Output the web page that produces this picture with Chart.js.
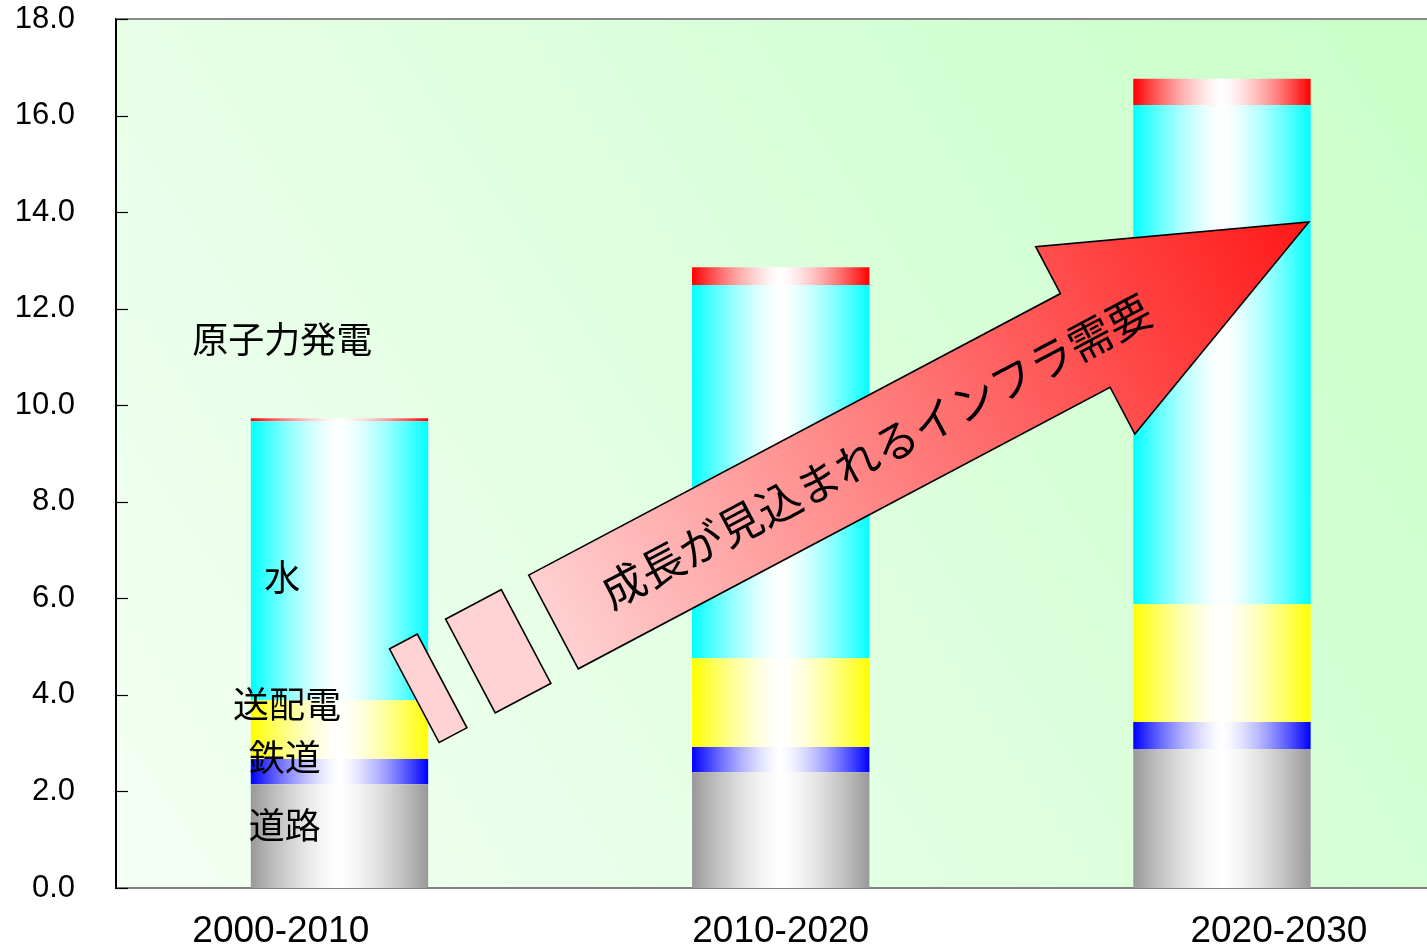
<!DOCTYPE html>
<html><head><meta charset="utf-8">
<script src="https://cdn.jsdelivr.net/npm/chart.js@4/dist/chart.umd.min.js"></script>
<style>html,body{margin:0;padding:0;background:#fff;overflow:hidden}</style>
</head><body>
<canvas id="c" width="1427" height="945"></canvas>
<script>
// ---- data ----
const categories = ['2000-2010', '2010-2020', '2020-2030'];
const seriesNames = ['道路', '鉄道', '送配電', '水', '原子力発電'];
const road    = [2.15, 2.40, 2.88];
const rail    = [0.52, 0.52, 0.56];
const power   = [1.22, 1.84, 2.44];
const water   = [5.78, 7.73, 10.34];
const nuclear = [0.06, 0.37, 0.54];
const yTickMin = 0, yTickMax = 18, yTickStep = 2;
const arrowText = '成長が見込まれるインフラ需要';

// ---- layout / style (not data) ----
const seriesColors = [[153,153,153], [0,0,255], [255,255,0], [0,255,255], [255,0,0]];
const BAR_FRAC = 0.402;
const X_MIN = -0.5065, X_MAX = 2.4647;
const catLabelX = [-0.133, 1.0, 2.129];
const seriesLabelPos = [ // [x value, y value] for in-chart series labels
  [-0.124, 1.30], [-0.124, 2.71], [-0.119, 3.81], [-0.130, 6.44], [-0.130, 11.37]
];
const arrowCfg = { tail: [0.485, 5.51], tip: [2.197, 13.795], bodyHalf: 53, headHalf: 106, headLen: 253,
  textAt: 365, gap1: 31, piece2: 63, gap2: 32, piece1: 31.5 };
const CJK = '"Noto Sans CJK JP", "Noto Sans", sans-serif';
const LAT = '"Liberation Sans", Arial, sans-serif';

function mixWhite(c, w) {
  return 'rgb(' + c.map(v => Math.round(v + (255 - v) * w)).join(',') + ')';
}
function barGrad(color) {
  return (ctx) => {
    const chart = ctx.chart;
    const xs = chart.scales && chart.scales.x;
    if (!chart.chartArea || !xs || ctx.type !== 'data') return mixWhite(color, 0);
    const cx = xs.getPixelForValue(ctx.dataIndex);
    const hw = (xs.getPixelForValue(1) - xs.getPixelForValue(0)) * BAR_FRAC / 2;
    const g = chart.ctx.createLinearGradient(cx - hw, 0, cx + hw, 0);
    for (let k = 0; k <= 20; k++) {
      const t = k / 20;
      const d = Math.abs(t - 0.5) / 0.5;           // 0 at centre, 1 at edge
      const w = 1 - Math.pow(d, 1.45);
      g.addColorStop(t, mixWhite(color, w));
    }
    return g;
  };
}

const seriesValues = [road, rail, power, water, nuclear];
const datasets = seriesValues.map((vals, s) => ({
  label: seriesNames[s],
  data: vals.map((v, i) => ({ x: i, y: v })),
  backgroundColor: barGrad(seriesColors[s]),
  borderWidth: 0,
  categoryPercentage: 1,
  barPercentage: BAR_FRAC
}));

const decor = {
  id: 'decor',
  beforeDraw(chart) {
    const { ctx, chartArea: a } = chart;
    const g = ctx.createLinearGradient(a.left, a.bottom, a.right, a.top);
    g.addColorStop(0, '#f4fff4');
    g.addColorStop(1, '#c8ffc8');
    ctx.save();
    ctx.fillStyle = g;
    ctx.fillRect(a.left, a.top, a.right - a.left, a.bottom - a.top);
    ctx.restore();
  },
  afterDraw(chart) {
    const { ctx, chartArea: a } = chart;
    const xs = chart.scales.x, ys = chart.scales.y;
    ctx.save();
    // top border
    ctx.strokeStyle = '#888888'; ctx.lineWidth = 2;
    ctx.beginPath(); ctx.moveTo(a.left, a.top); ctx.lineTo(a.right, a.top); ctx.stroke();
    // inside tick marks
    ctx.strokeStyle = '#000'; ctx.lineWidth = 1.2;
    for (let v = yTickMin; v <= yTickMax; v += yTickStep) {
      const y = Math.round(ys.getPixelForValue(v)) + 0.5;
      ctx.beginPath(); ctx.moveTo(a.left, y); ctx.lineTo(a.left + 12, y); ctx.stroke();
    }
    // category labels
    ctx.fillStyle = '#000';
    ctx.font = '37px ' + LAT;
    ctx.textAlign = 'center'; ctx.textBaseline = 'alphabetic';
    categories.forEach((c, i) => ctx.fillText(c, xs.getPixelForValue(catLabelX[i]), 942));
    // series labels
    ctx.font = '36px ' + CJK;
    ctx.textBaseline = 'middle';
    seriesNames.forEach((n, s) => {
      const p = seriesLabelPos[s];
      ctx.fillText(n, xs.getPixelForValue(p[0]), ys.getPixelForValue(p[1]));
    });
    // arrow
    const t = { x: xs.getPixelForValue(arrowCfg.tail[0]), y: ys.getPixelForValue(arrowCfg.tail[1]) };
    const h = { x: xs.getPixelForValue(arrowCfg.tip[0]), y: ys.getPixelForValue(arrowCfg.tip[1]) };
    const L = Math.hypot(h.x - t.x, h.y - t.y);
    const bw = arrowCfg.bodyHalf, hw = arrowCfg.headHalf, hl = arrowCfg.headLen;
    ctx.translate(t.x, t.y);
    ctx.rotate(Math.atan2(h.y - t.y, h.x - t.x));
    ctx.lineJoin = 'miter';
    ctx.strokeStyle = '#000'; ctx.lineWidth = 1.6;
    // dashed pieces
    ctx.fillStyle = '#ffd3d3';
    const p2s = -arrowCfg.gap1 - arrowCfg.piece2;
    ctx.beginPath(); ctx.rect(p2s, -bw, arrowCfg.piece2, 2 * bw); ctx.fill(); ctx.stroke();
    const p1s = p2s - arrowCfg.gap2 - arrowCfg.piece1;
    ctx.beginPath(); ctx.rect(p1s, -bw, arrowCfg.piece1, 2 * bw); ctx.fill(); ctx.stroke();
    // main arrow
    const ag = ctx.createLinearGradient(0, 0, L, 0);
    ag.addColorStop(0, '#ffd0d0');
    ag.addColorStop(1, '#ff1818');
    ctx.fillStyle = ag;
    ctx.beginPath();
    ctx.moveTo(0, -bw); ctx.lineTo(L - hl, -bw); ctx.lineTo(L - hl, -hw); ctx.lineTo(L, 0);
    ctx.lineTo(L - hl, hw); ctx.lineTo(L - hl, bw); ctx.lineTo(0, bw); ctx.closePath();
    ctx.fill(); ctx.stroke();
    ctx.fillStyle = '#000';
    ctx.font = '44px ' + CJK;
    ctx.textAlign = 'center'; ctx.textBaseline = 'middle';
    ctx.fillText(arrowText, arrowCfg.textAt, 0);
    ctx.restore();
  }
};

new Chart(document.getElementById('c'), {
  type: 'bar',
  data: { datasets },
  options: {
    responsive: false,
    animation: false,
    devicePixelRatio: 1,
    layout: { padding: { top: 19, right: 0, left: 0, bottom: 0 } },
    plugins: { legend: { display: false }, tooltip: { enabled: false } },
    scales: {
      x: {
        type: 'linear', stacked: true, min: X_MIN, max: X_MAX, offset: false,
        grid: { display: false, drawTicks: false },
        ticks: { display: false, stepSize: 1 },
        afterBuildTicks: (s) => { s.ticks = s.ticks.filter(t => Number.isInteger(t.value)); },
        border: { display: true, color: '#808080', width: 2 },
        afterFit: (s) => { s.height = 57; s.paddingLeft = 0; s.paddingRight = 0; }
      },
      y: {
        stacked: true, min: yTickMin, max: yTickMax,
        grid: { display: false, drawTicks: false },
        border: { display: true, color: '#000000', width: 2 },
        ticks: {
          stepSize: yTickStep, padding: 41, color: '#000',
          font: { family: LAT, size: 31 },
          callback: (v) => Number(v).toFixed(1)
        },
        afterFit: (s) => { s.width = 116; s.paddingTop = 0; s.paddingBottom = 0; }
      }
    }
  },
  plugins: [decor]
});
</script>
</body></html>
